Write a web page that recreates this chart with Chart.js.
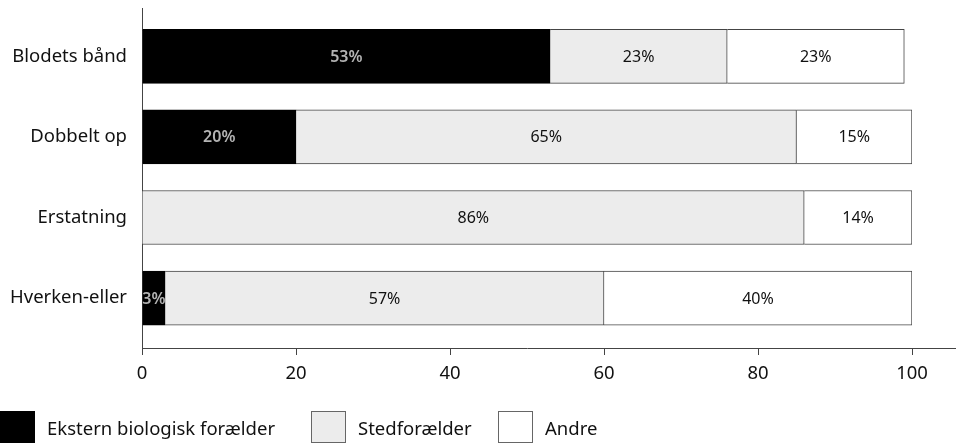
<!DOCTYPE html>
<html>
<head>
<meta charset="utf-8">
<script src="https://cdn.jsdelivr.net/npm/chart.js@4"></script>
<style>
  html, body { margin: 0; padding: 0; background: #fff; }
  #wrap { width: 956px; height: 443px; position: relative; }
  #legend { position: absolute; left: 0; top: 411px; display: flex; font-family: "Noto Sans", "Open Sans", sans-serif; font-size: 18.5px; color: #111; }
  #legend .item { display: flex; align-items: center; }
  #legend .box { width: 33px; height: 30px; border: 1px solid #555; margin-right: 12px; }
</style>
</head>
<body>
<div id="wrap"><canvas id="chart"></canvas><div id="legend"></div></div>
<script>
var categories = ['Blodets bånd', 'Dobbelt op', 'Erstatning', 'Hverken-eller'];
var seriesNames = ['Ekstern biologisk forælder', 'Stedforælder', 'Andre'];
var eksternValues = [53, 20, 0, 3];
var stedValues = [23, 65, 86, 57];
var andreValues = [23, 15, 14, 40];
var xTicks = [0, 20, 40, 60, 80, 100];

var fontFamily = '"Noto Sans", "Open Sans", sans-serif';
var positions = categories.map(function (c, i) { return i; });

// writes the percentage in the middle of each segment
var segmentLabels = {
    id: 'segmentLabels',
    afterDatasetsDraw: function (chart) {
        var ctx = chart.ctx;
        ctx.save();
        ctx.textAlign = 'center';
        ctx.textBaseline = 'middle';
        chart.data.datasets.forEach(function (ds, di) {
            var meta = chart.getDatasetMeta(di);
            meta.data.forEach(function (bar, i) {
                var v = ds.data[i];
                if (!v) return;
                var p = bar.getProps(['x', 'base', 'y'], true);
                ctx.font = (di === 0 ? '600 ' : '') + '16px ' + fontFamily;
                ctx.fillStyle = di === 0 ? '#b4b4b4' : '#111';
                ctx.fillText(v + '%', (p.x + p.base) / 2, p.y + 1);
            });
        });
        ctx.restore();
    }
};

// x axis line runs on to the right edge
var axisExtend = {
    id: 'axisExtend',
    afterDraw: function (chart) {
        var a = chart.chartArea, ctx = chart.ctx;
        ctx.save();
        ctx.strokeStyle = '#444';
        ctx.lineWidth = 1;
        ctx.beginPath();
        ctx.moveTo(a.right, Math.round(a.bottom) + 0.5);
        ctx.lineTo(chart.width, Math.round(a.bottom) + 0.5);
        ctx.stroke();
        ctx.restore();
    }
};

// html legend built from the datasets
var htmlLegend = {
    id: 'htmlLegend',
    afterUpdate: function (chart) {
        var el = document.getElementById('legend');
        var widths = [311, 187, 120];
        el.innerHTML = '';
        chart.data.datasets.forEach(function (ds, i) {
            var item = document.createElement('div');
            item.className = 'item';
            item.style.width = widths[i] + 'px';
            var box = document.createElement('div');
            box.className = 'box';
            box.style.background = ds.backgroundColor;
            box.style.borderColor = i === 0 ? '#000' : '#666';
            var txt = document.createElement('span');
            txt.textContent = ds.label;
            item.appendChild(box);
            item.appendChild(txt);
            el.appendChild(item);
        });
    }
};

new Chart(document.getElementById('chart'), {
    type: 'bar',
    data: {
        labels: positions,
        datasets: [
            { label: seriesNames[0], data: eksternValues, backgroundColor: '#000', borderColor: '#000', borderWidth: 1 },
            { label: seriesNames[1], data: stedValues, backgroundColor: '#ececec', borderColor: '#444', borderWidth: 1 },
            { label: seriesNames[2], data: andreValues, backgroundColor: '#fff', borderColor: '#444', borderWidth: 1 }
        ]
    },
    options: {
        indexAxis: 'y',
        responsive: true,
        maintainAspectRatio: false,
        animation: false,
        layout: { padding: { top: 8, right: 44, left: 0, bottom: 58 } },
        datasets: { bar: { barThickness: 54 } },
        plugins: {
            legend: { display: false },
            tooltip: { enabled: false }
        },
        scales: {
            x: {
                stacked: true,
                min: 0,
                max: 100,
                afterBuildTicks: function (scale) {
                    scale.ticks = xTicks.map(function (v) { return { value: v }; });
                },
                afterFit: function (scale) { scale.height = 37; },
                border: { color: '#444', width: 1 },
                grid: { drawOnChartArea: false, drawTicks: true, tickLength: 7, color: '#444' },
                ticks: { color: '#111', padding: 8, font: { family: fontFamily, size: 18.5 } }
            },
            y: {
                type: 'linear',
                stacked: true,
                reverse: true,
                offset: false,
                min: -0.6,
                max: 3.62,
                afterBuildTicks: function (scale) {
                    scale.ticks = positions.map(function (v) { return { value: v }; });
                },
                afterFit: function (scale) {
                    scale.width = 142;
                    scale.paddingTop = 0;
                    scale.paddingBottom = 0;
                },
                border: { color: '#444', width: 1 },
                grid: { display: false, drawTicks: false, offset: false },
                ticks: {
                    color: '#111',
                    padding: 15,
                    font: { family: fontFamily, size: 18.5 },
                    callback: function (v) { return categories[v]; }
                }
            }
        }
    },
    plugins: [segmentLabels, axisExtend, htmlLegend]
});
</script>
</body>
</html>
